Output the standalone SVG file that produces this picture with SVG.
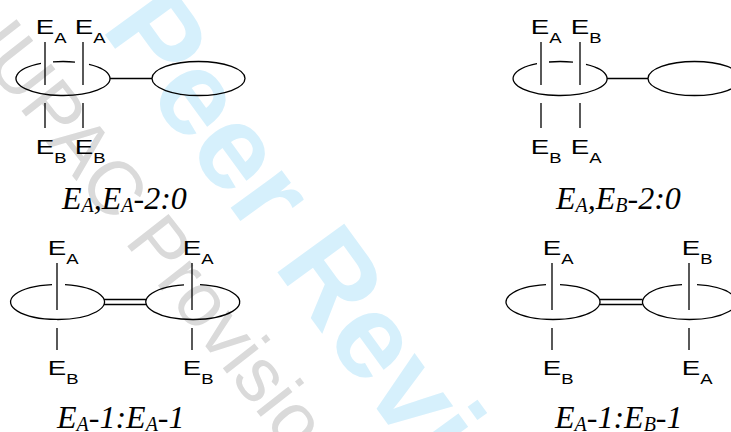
<svg xmlns="http://www.w3.org/2000/svg" width="731" height="432" viewBox="0 0 731 432">
<style>
.wm1{font-family:"Liberation Sans",Arial,sans-serif;font-size:120px;font-weight:bold;fill:#d6f0fc}
.wm2{font-family:"Liberation Sans",Arial,sans-serif;font-size:76px;fill:#dadada}
.ln{fill:none;stroke:#000;stroke-width:1.3}
.lbl{font-family:"Liberation Sans",Arial,sans-serif;font-size:21px;fill:#000}
.lbl tspan{font-size:14px}
.cap{font-family:"Liberation Serif","Times New Roman",serif;font-style:italic;font-size:32px;fill:#000}
.cap .s{font-size:20px}
</style>
<rect width="731" height="432" fill="#fff"/>
<g id="watermark">
<text class="wm1" transform="translate(-33,-155) rotate(54)">For Peer Review</text>
<text class="wm2" transform="translate(-29,46) rotate(52)">IUPAC Provisional</text>
</g>
<g id="connectors">
<line class="ln" x1="110" y1="78.5" x2="152" y2="78.5"/>
<line class="ln" x1="607" y1="78.5" x2="648" y2="78.5"/>
<line class="ln" x1="104" y1="299.5" x2="146.5" y2="299.5"/>
<line class="ln" x1="104" y1="304.5" x2="146.5" y2="304.5"/>
<line class="ln" x1="600" y1="299.5" x2="642.5" y2="299.5"/>
<line class="ln" x1="600" y1="304.5" x2="642.5" y2="304.5"/>
</g>
<g id="p1-left">
<path class="ln" d="M41 63.47A47 17 0 1 0 89 64.34M53 61.9A47 17 0 0 1 75 62.06"/>
<path class="ln" d="M45 42V85M45 103V128M83 42V85M83 103V128"/>
<text class="lbl" transform="translate(35.8,34) scale(1.32,1)">E<tspan dy="8.5">A</tspan></text>
<text class="lbl" transform="translate(74.8,34) scale(1.32,1)">E<tspan dy="8.5">A</tspan></text>
<text class="lbl" transform="translate(35.8,154) scale(1.32,1)">E<tspan dy="8.5">B</tspan></text>
<text class="lbl" transform="translate(74.8,154) scale(1.32,1)">E<tspan dy="8.5">B</tspan></text>
</g>
<g id="p1-right"><ellipse class="ln" cx="198.5" cy="78.5" rx="46.5" ry="17"/></g>
<g id="p1-caption"><text class="cap" x="62" y="209">E<tspan class="s" dy="3">A</tspan><tspan dy="-3">,E</tspan><tspan class="s" dy="3">A</tspan><tspan dy="-3">-2:0</tspan></text></g>
<g id="p2-left">
<path class="ln" d="M537 63.7A47 17 0 1 0 586 64.34M549 61.98A47 17 0 0 1 573 62.16"/>
<path class="ln" d="M541 42V85M541 103V128M580 42V85M580 103V128"/>
<text class="lbl" transform="translate(530.8,34) scale(1.32,1)">E<tspan dy="8.5">A</tspan></text>
<text class="lbl" transform="translate(570.8,34) scale(1.32,1)">E<tspan dy="8.5">B</tspan></text>
<text class="lbl" transform="translate(530.8,154) scale(1.32,1)">E<tspan dy="8.5">B</tspan></text>
<text class="lbl" transform="translate(570.8,154) scale(1.32,1)">E<tspan dy="8.5">A</tspan></text>
</g>
<g id="p2-right"><ellipse class="ln" cx="694.5" cy="78.5" rx="46.5" ry="17"/></g>
<g id="p2-caption"><text class="cap" x="556" y="209">E<tspan class="s" dy="3">A</tspan><tspan dy="-3">,E</tspan><tspan class="s" dy="3">B</tspan><tspan dy="-3">-2:0</tspan></text></g>
<g id="p3-left">
<path class="ln" d="M52 284.6A47 17.5 0 1 0 65 284.7"/>
<path class="ln" d="M57 263V310M57 328V350"/>
<text class="lbl" transform="translate(47.8,255) scale(1.32,1)">E<tspan dy="8.5">A</tspan></text>
<text class="lbl" transform="translate(47.8,375) scale(1.32,1)">E<tspan dy="8.5">B</tspan></text>
</g>
<g id="p3-right">
<path class="ln" d="M184 284.8A47 17.5 0 1 0 200 284.7"/>
<path class="ln" d="M192 263V310M192 328V350"/>
<text class="lbl" transform="translate(182.8,255) scale(1.32,1)">E<tspan dy="8.5">A</tspan></text>
<text class="lbl" transform="translate(182.8,375) scale(1.32,1)">E<tspan dy="8.5">B</tspan></text>
</g>
<g id="p3-caption"><text class="cap" x="57" y="428">E<tspan class="s" dy="3">A</tspan><tspan dy="-3">-1:E</tspan><tspan class="s" dy="3">A</tspan><tspan dy="-3">-1</tspan></text></g>
<g id="p4-left">
<path class="ln" d="M546 284.7A47 17.5 0 1 0 560 284.7"/>
<path class="ln" d="M552 263V310M552 328V350"/>
<text class="lbl" transform="translate(542.8,255) scale(1.32,1)">E<tspan dy="8.5">A</tspan></text>
<text class="lbl" transform="translate(542.8,375) scale(1.32,1)">E<tspan dy="8.5">B</tspan></text>
</g>
<g id="p4-right">
<path class="ln" d="M682 284.7A47 17.5 0 1 0 697 284.7"/>
<path class="ln" d="M689 263V310M689 328V350"/>
<text class="lbl" transform="translate(681.8,255) scale(1.32,1)">E<tspan dy="8.5">B</tspan></text>
<text class="lbl" transform="translate(681.8,375) scale(1.32,1)">E<tspan dy="8.5">A</tspan></text>
</g>
<g id="p4-caption"><text class="cap" x="555" y="428">E<tspan class="s" dy="3">A</tspan><tspan dy="-3">-1:E</tspan><tspan class="s" dy="3">B</tspan><tspan dy="-3">-1</tspan></text></g>
</svg>
